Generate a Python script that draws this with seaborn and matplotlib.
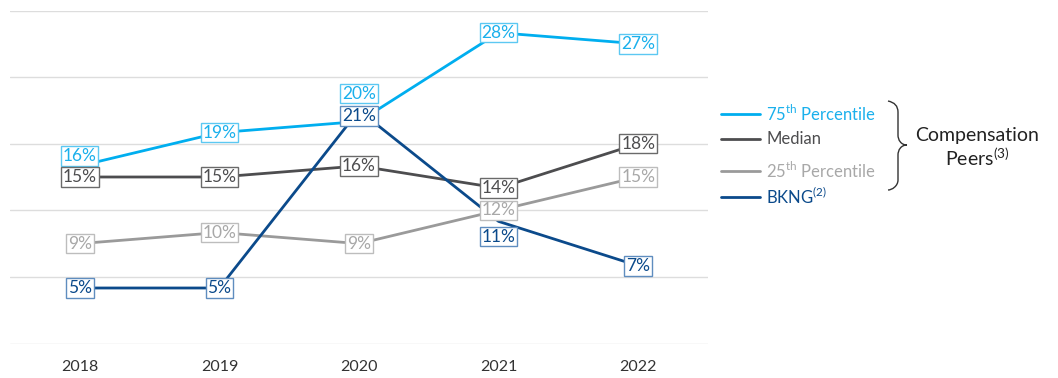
import numpy as np
import pandas as pd
import seaborn as sns
import matplotlib.pyplot as plt
from matplotlib.lines import Line2D
from matplotlib.path import Path
from matplotlib.patches import PathPatch

years = ["2018", "2019", "2020", "2021", "2022"]
p75 = [16, 19, 20, 28, 27]
median = [15, 15, 16, 14, 18]
p25 = [9, 10, 9, 12, 15]
bkng = [5, 5, 21, 11, 7]

series_names = ["75th", "Median", "25th", "BKNG"]
series_vals = [p75, median, p25, bkng]
line_colors = ["#00AEEF", "#4D4D4F", "#9A9A9A", "#0B4A8B"]
text_colors = ["#1AB0EC", "#4D4D4F", "#A8A8A8", "#0B4A8B"]
edge_colors = ["#5CC8F2", "#6A6A6A", "#BDBDBD", "#5F8DBF"]
legend_labels = [r"75$^{\mathrm{th}}$ Percentile", "Median",
                 r"25$^{\mathrm{th}}$ Percentile", r"BKNG$^{\mathrm{(2)}}$"]
# label offsets in points (dx, dy) for overlapping labels
label_offsets = {("75th", 0): (0, 7), ("75th", 2): (0, 20), ("BKNG", 3): (0, -11),
                 ("BKNG", 2): (0, -4)}

sns.set_style("white")
plt.rcParams["font.family"] = ["Lato", "DejaVu Sans"]
plt.rcParams["mathtext.fontset"] = "custom"
plt.rcParams["mathtext.rm"] = "Lato"

rows = []
for name, vals in zip(series_names, series_vals):
    for i, (y, v) in enumerate(zip(years, vals)):
        rows.append({"year": y, "idx": i, "value": v, "series": name})
df = pd.DataFrame(rows)

fig = plt.figure(figsize=(10.58, 3.78), dpi=100)
ax = fig.add_axes([10 / 1058, 1 - 343.5 / 378, (708 - 10) / 1058, (343.5 - 10.5) / 378])

sns.lineplot(data=df, x="idx", y="value", hue="series", hue_order=series_names,
             palette=dict(zip(series_names, line_colors)), linewidth=2, ax=ax,
             legend=False, zorder=2)

for si, (name, vals) in enumerate(zip(series_names, series_vals)):
    for i, v in enumerate(vals):
        dx, dy = label_offsets.get((name, i), (0, 0))
        ax.annotate(f"{v}%", (i, v), xytext=(dx, dy), textcoords="offset points",
                    ha="center", va="center", fontsize=12.5,
                    color=text_colors[si], zorder=5,
                    bbox=dict(boxstyle="square,pad=0.1", fc="white",
                              ec=edge_colors[si], lw=1))

ax.set_xlim(-0.5, 4.5)
ax.set_ylim(0, 30)
ax.set_yticks([0, 6, 12, 18, 24, 30])
ax.set_yticklabels([])
ax.set_xticks(range(len(years)))
ax.set_xticklabels(years, fontsize=11.5, color="#333333")
ax.tick_params(axis="x", length=0, pad=12)
ax.tick_params(axis="y", length=0)
ax.grid(axis="y", color="#DDDDDD", linewidth=1)
ax.set_axisbelow(True)
for s in ax.spines.values():
    s.set_visible(False)
ax.set_xlabel("")
ax.set_ylabel("")

W, H = 1058, 378
def fx(px):
    return px / W
def fy(py):
    return 1 - py / H

leg_y = [114, 139, 171, 197]
for si, yy in enumerate(leg_y):
    fig.add_artist(Line2D([fx(721), fx(760)], [fy(yy), fy(yy)], color=line_colors[si],
                          lw=2, transform=fig.transFigure))
    fig.text(fx(766), fy(yy), legend_labels[si], ha="left", va="center",
             fontsize=12, color=text_colors[si])

# brace
verts = [(888, 101), (898, 103), (898, 112), (898, 118),
         (898, 128), (898, 135), (898, 140), (901, 145), (907, 145),
         (901, 145), (898, 150), (898, 155),
         (898, 170), (898, 180), (898, 186), (892, 190), (888, 190)]
codes = [Path.MOVETO, Path.CURVE3, Path.CURVE3, Path.LINETO,
         Path.LINETO, Path.LINETO, Path.CURVE4, Path.CURVE4, Path.CURVE4,
         Path.CURVE4, Path.CURVE4, Path.CURVE4,
         Path.LINETO, Path.LINETO, Path.CURVE4, Path.CURVE4, Path.CURVE4]
fverts = [(fx(a), fy(b)) for a, b in verts]
fig.add_artist(PathPatch(Path(fverts, codes), fc="none", ec="#333333", lw=1.0,
                         transform=fig.transFigure))

fig.text(fx(977), fy(136), "Compensation", ha="center", va="center", fontsize=14,
         color="#222222")
fig.text(fx(977), fy(158), r"Peers$^{\mathrm{(3)}}$", ha="center", va="center",
         fontsize=14, color="#222222")

fig.savefig("out.png", dpi=100)
